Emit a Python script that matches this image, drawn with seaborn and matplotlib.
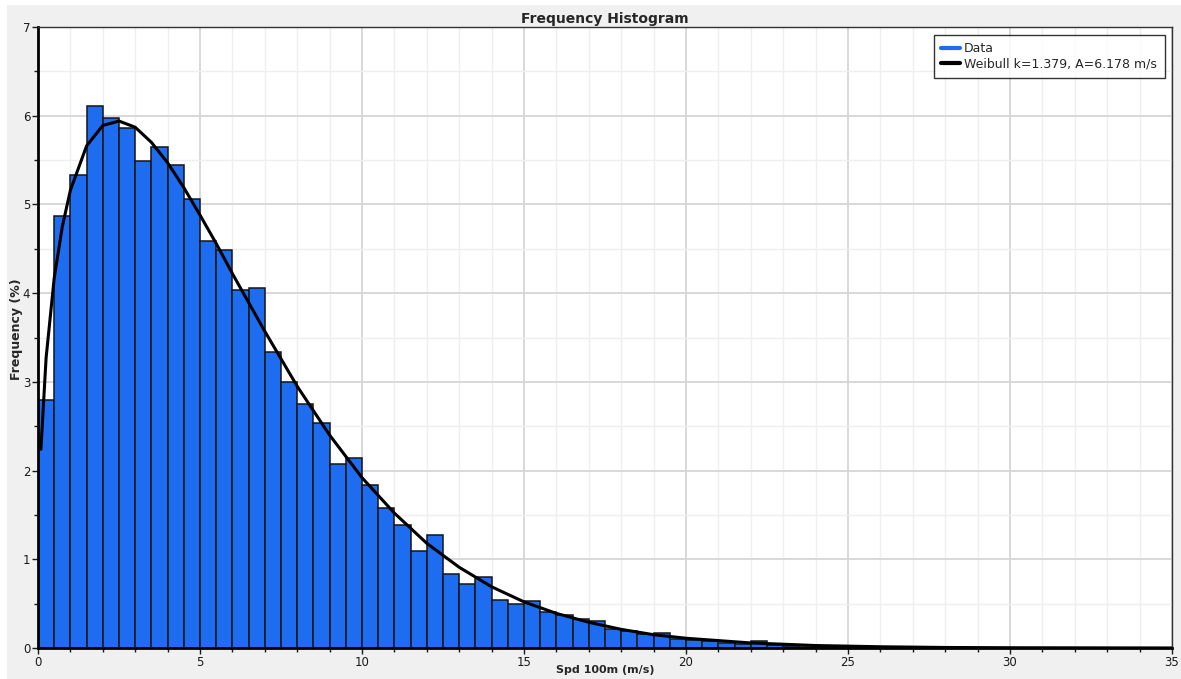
import numpy as np
import pandas as pd
import matplotlib
matplotlib.use('Agg')
import matplotlib.pyplot as plt
from matplotlib.lines import Line2D
from matplotlib.patches import Rectangle
from matplotlib.ticker import MultipleLocator
import seaborn as sns

# Histogram bins: 0.5 m/s wide, 0 to 35 m/s
bin_width = 0.5
bin_centers = [bin_width * i + bin_width / 2 for i in range(70)]

# Frequency (%) per bin
freq = [2.80, 4.87, 5.33, 6.11, 5.97, 5.86, 5.49, 5.65, 5.45, 5.06,
        4.59, 4.49, 4.03, 4.06, 3.34, 3.00, 2.75, 2.54, 2.07, 2.14,
        1.84, 1.58, 1.39, 1.09, 1.27, 0.83, 0.72, 0.80, 0.54, 0.50,
        0.53, 0.41, 0.375, 0.33, 0.30, 0.21, 0.19, 0.16, 0.165, 0.105,
        0.087, 0.08, 0.053, 0.05, 0.083, 0.034, 0.023, 0.015, 0.025, 0.012,
        0.01, 0.006, 0.005, 0.004, 0.003, 0.002, 0.002, 0.001, 0.0, 0.0,
        0.0, 0.0, 0.0, 0.0, 0.0, 0.0, 0.0, 0.0, 0.0, 0.0]

# Weibull fit curve (k=1.379, A=6.178 m/s)
curve_x = [0.09, 0.25, 0.5, 0.75, 1.0, 1.5, 2.0, 2.5, 3.0, 3.5, 4.0, 4.5, 5.0, 5.5,
           6.0, 7.0, 8.0, 9.0, 10.0, 11.0, 12.0, 13.0, 14.0, 15.0, 16.0, 17.0,
           18.0, 19.0, 20.0, 22.0, 24.0, 26.0, 28.0, 30.0, 35.0]
curve_y = [2.24, 3.27, 4.17, 4.75, 5.16, 5.66, 5.89, 5.94, 5.87, 5.70, 5.47, 5.19, 4.88, 4.56,
           4.22, 3.57, 2.95, 2.40, 1.92, 1.52, 1.18, 0.91, 0.69, 0.52, 0.39, 0.29,
           0.21, 0.15, 0.11, 0.057, 0.028, 0.014, 0.006, 0.003, 0.0004]

bar_color = '#1e6cf0'
legend_labels = ['Data', 'Weibull k=1.379, A=6.178 m/s']

df_bins = pd.DataFrame({'speed': bin_centers, 'freq': freq})
df_curve = pd.DataFrame({'speed': curve_x, 'freq': curve_y})

sns.set_style('white')
plt.rcParams['font.family'] = ['DejaVu Sans']

fig = plt.figure(figsize=(11.81, 6.79), dpi=100, facecolor='white')
# light grey panel behind the chart (thin white strip at top/left like the reference)
fig.patches.append(Rectangle((7 / 1181, 0), 1, 1 - 5 / 679, transform=fig.transFigure,
                             facecolor='#f0f0f0', edgecolor='none', zorder=-10))
ax = fig.add_axes([38 / 1181, 31 / 679, (1172 - 38) / 1181, (648 - 27) / 679])
ax.set_facecolor('white')

# Bars
sns.histplot(data=df_bins, x='speed', weights='freq', binwidth=bin_width, binrange=(0, 35),
             stat='count', color=bar_color, alpha=1, edgecolor='#151515', linewidth=1.1,
             ax=ax, zorder=2)

# Fitted curve
sns.lineplot(data=df_curve, x='speed', y='freq', color='black', linewidth=2.2, sort=False,
             estimator=None, ax=ax, zorder=3)

ax.set_xlim(0, 35)
ax.set_ylim(0, 7)
ax.xaxis.set_major_locator(MultipleLocator(5))
ax.xaxis.set_minor_locator(MultipleLocator(1))
ax.yaxis.set_major_locator(MultipleLocator(1))
ax.yaxis.set_minor_locator(MultipleLocator(0.5))

ax.set_axisbelow(True)
ax.grid(which='major', color='#d6d6d6', linewidth=1.3)
ax.grid(which='minor', color='#efefef', linewidth=1.0)

ax.tick_params(which='major', direction='out', length=4, width=1, colors='#1a1a1a',
               labelsize=8.5, pad=1.5, bottom=True, left=True)
ax.tick_params(which='minor', direction='out', length=3, width=1, colors='#1a1a1a',
               bottom=True, left=True)

for side in ['left', 'bottom']:
    ax.spines[side].set_linewidth(2)
    ax.spines[side].set_color('black')
for side in ['top', 'right']:
    ax.spines[side].set_linewidth(1)
    ax.spines[side].set_color('#333333')

ax.set_title('Frequency Histogram', fontsize=10, fontweight='bold', pad=3)
ax.set_ylabel('Frequency (%)', fontsize=9, fontweight='bold')
ax.yaxis.set_label_coords(-0.013, 0.514)
ax.set_xlabel('Spd 100m (m/s)', fontsize=8, fontweight='bold')
ax.xaxis.set_label_coords(0.5, -0.027)

handles = [Line2D([0], [0], color=bar_color, linewidth=3),
           Line2D([0], [0], color='black', linewidth=3)]
leg = ax.legend(handles, legend_labels, loc='upper right', fontsize=9, frameon=True,
                fancybox=False, handlelength=1.5, handletextpad=0.35, borderpad=0.6,
                labelspacing=0.2, borderaxespad=0.6)
leg.get_frame().set_edgecolor('black')
leg.get_frame().set_linewidth(1)

fig.savefig('out.png', dpi=100, facecolor=fig.get_facecolor())
